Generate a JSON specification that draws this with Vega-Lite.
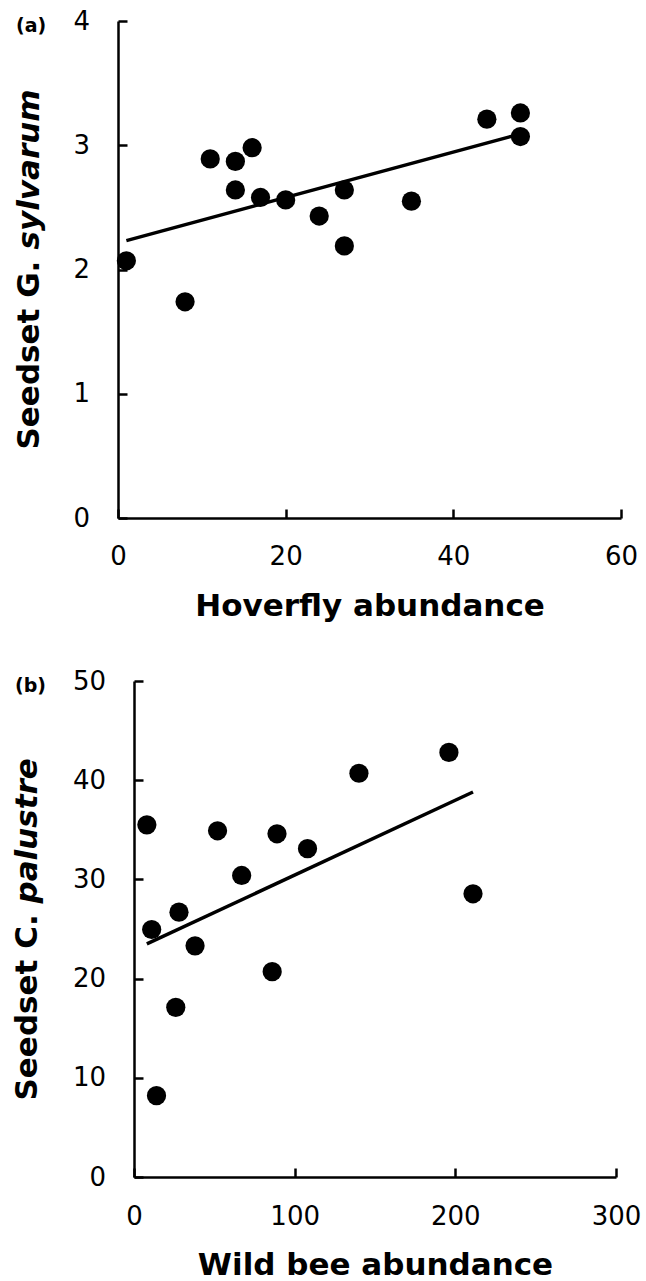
{
  "$schema": "https://vega.github.io/schema/vega-lite/v6.json",
  "padding": {"left": 11, "top": 8, "right": 0, "bottom": 0},
  "background": "white",
  "spacing": 47,
  "config": {
    "view": {"stroke": null},
    "font": "DejaVu Sans",
    "axis": {
      "grid": false,
      "domainColor": "black",
      "domainWidth": 2.5,
      "tickColor": "black",
      "tickWidth": 2.5,
      "tickSize": -9,
      "labelColor": "black",
      "labelFont": "DejaVu Sans",
      "labelFontSize": 26,
      "labelFlush": false,
      "labelOverlap": false,
      "titleColor": "black",
      "titleFont": "DejaVu Sans",
      "titleFontSize": 31,
      "titleFontWeight": "bold"
    },
    "title": {"font": "DejaVu Sans", "color": "black"}
  },
  "datasets": {
    "a": [
      {"abundance": 1, "seedset": 2.07},
      {"abundance": 8, "seedset": 1.74},
      {"abundance": 11, "seedset": 2.89},
      {"abundance": 14, "seedset": 2.87},
      {"abundance": 16, "seedset": 2.98},
      {"abundance": 14, "seedset": 2.64},
      {"abundance": 17, "seedset": 2.58},
      {"abundance": 20, "seedset": 2.56},
      {"abundance": 24, "seedset": 2.43},
      {"abundance": 27, "seedset": 2.64},
      {"abundance": 27, "seedset": 2.19},
      {"abundance": 35, "seedset": 2.55},
      {"abundance": 44, "seedset": 3.21},
      {"abundance": 48, "seedset": 3.26},
      {"abundance": 48, "seedset": 3.07}
    ],
    "b": [
      {"abundance": 8, "seedset": 35.5},
      {"abundance": 11, "seedset": 24.95},
      {"abundance": 28, "seedset": 26.7},
      {"abundance": 38, "seedset": 23.3},
      {"abundance": 52, "seedset": 34.9},
      {"abundance": 67, "seedset": 30.4},
      {"abundance": 89, "seedset": 34.6},
      {"abundance": 108, "seedset": 33.1},
      {"abundance": 140, "seedset": 40.7},
      {"abundance": 196, "seedset": 42.8},
      {"abundance": 211, "seedset": 28.55},
      {"abundance": 86, "seedset": 20.7},
      {"abundance": 26, "seedset": 17.1},
      {"abundance": 14, "seedset": 8.2}
    ]
  },
  "vconcat": [
    {
      "width": 503,
      "height": 497,
      "title": {"text": "(a)", "anchor": "start", "frame": "bounds", "offset": 0, "dy": 28, "dx": 3, "fontSize": 19, "fontWeight": "bold"},
      "layer": [
        {
          "data": {"name": "a"},
          "transform": [{"regression": "seedset", "on": "abundance"}],
          "mark": {"type": "line", "color": "black", "strokeWidth": 3.5},
          "encoding": {
            "x": {"field": "abundance", "type": "quantitative", "scale": {"domain": [0, 60], "nice": false, "zero": false},
                  "axis": {"values": [0, 20, 40, 60], "title": "Hoverfly abundance", "labelPadding": 34.5, "titlePadding": 21.5}},
            "y": {"field": "seedset", "type": "quantitative", "scale": {"domain": [0, 4], "nice": false},
                  "axis": {"orient": "left", "domain": false, "ticks": false, "labels": false, "title": "sylvarum", "titleFontStyle": "italic",
                           "titleX": -80, "titleY": 228, "titleAngle": -90, "titleAlign": "left", "titleBaseline": "alphabetic"}}
          }
        },
        {
          "data": {"name": "a"},
          "mark": {"type": "point", "filled": true, "color": "black", "opacity": 1, "size": 370, "shape": "circle"},
          "encoding": {
            "x": {"field": "abundance", "type": "quantitative", "scale": {"domain": [0, 60], "nice": false, "zero": false},
                  "axis": {"values": [0, 20, 40, 60], "title": "Hoverfly abundance", "labelPadding": 34.5, "titlePadding": 21.5}},
            "y": {"field": "seedset", "type": "quantitative", "scale": {"domain": [0, 4], "nice": false},
                  "axis": {"orient": "left", "values": [0, 1, 2, 3, 4], "title": "Seedset G.", "labelPadding": 37.5, "labelAlign": "right",
                           "titleX": -80, "titleY": 428, "titleAngle": -90, "titleAlign": "left", "titleBaseline": "alphabetic"}}
          }
        }
      ],
      "resolve": {"scale": {"y": "independent"}, "axis": {"y": "independent"}}
    },
    {
      "width": 498,
      "height": 496,
      "title": {"text": "(b)", "anchor": "start", "frame": "bounds", "offset": 0, "dy": 28, "dx": 4, "fontSize": 19, "fontWeight": "bold"},
      "layer": [
        {
          "data": {"name": "b"},
          "transform": [{"regression": "seedset", "on": "abundance"}],
          "mark": {"type": "line", "color": "black", "strokeWidth": 3.5},
          "encoding": {
            "x": {"field": "abundance", "type": "quantitative", "scale": {"domain": [0, 300], "range": [16, 498], "nice": false, "zero": false},
                  "axis": {"values": [0, 100, 200, 300], "title": "Wild bee abundance", "labelPadding": 35, "titlePadding": 21}},
            "y": {"field": "seedset", "type": "quantitative", "scale": {"domain": [0, 50], "nice": false},
                  "axis": {"orient": "left", "offset": -16, "domain": false, "ticks": false, "labels": false, "title": "palustre", "titleFontStyle": "italic",
                           "titleX": -98, "titleY": 222, "titleAngle": -90, "titleAlign": "left", "titleBaseline": "alphabetic"}}
          }
        },
        {
          "data": {"name": "b"},
          "mark": {"type": "point", "filled": true, "color": "black", "opacity": 1, "size": 370, "shape": "circle"},
          "encoding": {
            "x": {"field": "abundance", "type": "quantitative", "scale": {"domain": [0, 300], "range": [16, 498], "nice": false, "zero": false},
                  "axis": {"values": [0, 100, 200, 300], "title": "Wild bee abundance", "labelPadding": 35, "titlePadding": 21}},
            "y": {"field": "seedset", "type": "quantitative", "scale": {"domain": [0, 50], "nice": false},
                  "axis": {"orient": "left", "offset": -16, "values": [0, 10, 20, 30, 40, 50], "title": "Seedset C.", "labelPadding": 37.5, "labelAlign": "right",
                           "titleX": -98, "titleY": 419, "titleAngle": -90, "titleAlign": "left", "titleBaseline": "alphabetic"}}
          }
        }
      ],
      "resolve": {"scale": {"y": "independent"}, "axis": {"y": "independent"}}
    }
  ]
}
